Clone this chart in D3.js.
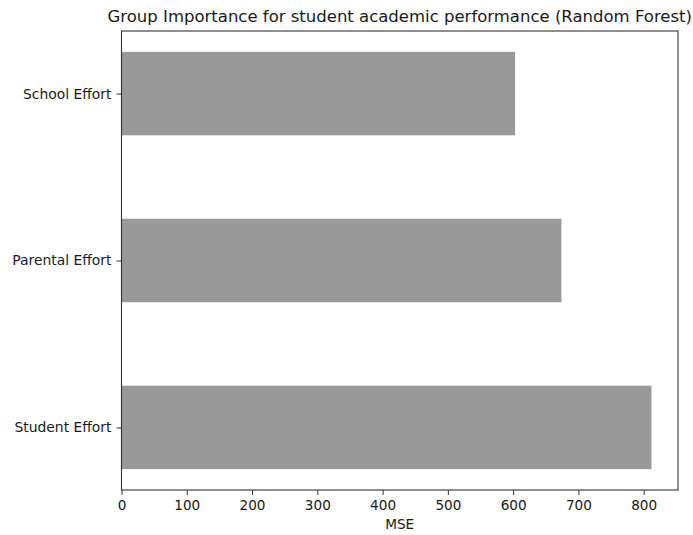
<!DOCTYPE html>
<html>
<head>
<meta charset="utf-8">
<script src="https://cdn.jsdelivr.net/npm/d3@7"></script>
<style>
  body { margin: 0; background: #fff; }
  text { font-family: "DejaVu Sans", sans-serif; fill: #1a1a1a; }
</style>
</head>
<body>
<div id="plot"></div>
<script>
// data (top to bottom)
var groups = ["School Effort", "Parental Effort", "Student Effort"];
var mse = [603, 674, 812];
var xTicks = [0, 100, 200, 300, 400, 500, 600, 700, 800];

var width = 693, height = 535;
var plotLeft = 121.5, plotRight = 678, plotTop = 31, plotBottom = 490;

var svg = d3.select("#plot")
  .append("svg")
  .attr("width", width)
  .attr("height", height);

var x = d3.scaleLinear()
  .domain([0, d3.max(mse) * 1.05])
  .range([plotLeft, plotRight]);

// categories sit at 0,1,2 ; bar thickness 0.5
var y = d3.scaleLinear()
  .domain([-0.375, groups.length - 1 + 0.375])
  .range([plotTop, plotBottom]);

svg.selectAll("rect.bar")
  .data(groups)
  .enter().append("rect")
  .attr("class", "bar")
  .attr("x", x(0))
  .attr("y", function (d, i) { return y(i - 0.25); })
  .attr("width", function (d, i) { return x(mse[i]) - x(0); })
  .attr("height", function (d, i) { return y(i + 0.25) - y(i - 0.25); })
  .style("fill", "#999999");

// x axis
var xAxis = d3.axisBottom(x).tickValues(xTicks).tickSize(5).tickPadding(5);
var gx = svg.append("g")
  .attr("transform", "translate(0," + plotBottom + ")")
  .call(xAxis);
gx.select(".domain").remove();
gx.selectAll("text").style("font-size", "13.6px").attr("dy", "0.71em");
gx.selectAll("line").style("stroke", "#333");

// y axis
var yAxis = d3.axisLeft(y).tickValues(d3.range(groups.length))
  .tickFormat(function (d) { return groups[d]; })
  .tickSize(5).tickPadding(5);
var gy = svg.append("g")
  .attr("transform", "translate(" + plotLeft + ",0)")
  .call(yAxis);
gy.select(".domain").remove();
gy.selectAll("text").style("font-size", "13.9px");
gy.selectAll("line").style("stroke", "#333");

// frame
svg.append("rect")
  .attr("x", plotLeft)
  .attr("y", plotTop)
  .attr("width", plotRight - plotLeft)
  .attr("height", plotBottom - plotTop)
  .style("fill", "none")
  .style("stroke", "#333")
  .style("stroke-width", 1.1);

svg.append("text")
  .attr("x", (plotLeft + plotRight) / 2)
  .attr("y", 529)
  .style("text-anchor", "middle")
  .style("font-size", "13.6px")
  .text("MSE");

svg.append("text")
  .attr("x", (plotLeft + plotRight) / 2)
  .attr("y", 21.5)
  .style("text-anchor", "middle")
  .style("font-size", "16.5px")
  .text("Group Importance for student academic performance (Random Forest)");
</script>
</body>
</html>
